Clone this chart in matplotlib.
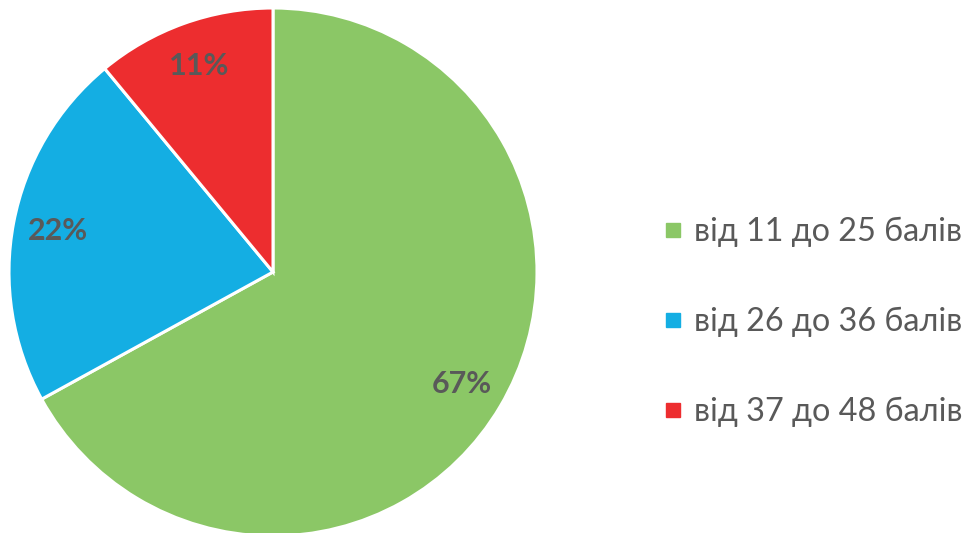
import matplotlib.pyplot as plt
from matplotlib.lines import Line2D

# Score groups and their shares
labels = ['від 11 до 25 балів', 'від 26 до 36 балів', 'від 37 до 48 балів']
shares = [67, 22, 11]
colors = ['#8BC766', '#14AEE3', '#ED2D2F']

plt.rcParams['font.family'] = ['Lato', 'DejaVu Sans']

fig = plt.figure(figsize=(9.75, 5.33), dpi=100)
# pie axes placed so the circle sits at the left, cut slightly at the bottom
ax = fig.add_axes([9 / 975, -3 / 533, 528 / 975, 528 / 533])

wedges, texts, autotexts = ax.pie(
    shares, colors=colors, startangle=90, counterclock=False,
    autopct='%1.0f%%', pctdistance=0.83,
    wedgeprops=dict(edgecolor='white', linewidth=2.2),
    textprops=dict(color='#595959', fontsize=22, fontweight='bold'))
ax.set_xlim(-1, 1)
ax.set_ylim(-1, 1)
ax.set_aspect('equal')

handles = [Line2D([], [], marker='s', linestyle='none', markersize=10,
                  markerfacecolor=c, markeredgecolor=c) for c in colors]
leg = fig.legend(handles, labels, loc='center left',
                 bbox_to_anchor=(663 / 975, 1 - 322 / 533),
                 frameon=False, fontsize=23.3, labelcolor='#595959',
                 handlelength=0.62, handletextpad=0.35, labelspacing=1.85,
                 borderaxespad=0, borderpad=0)

plt.savefig('out.png', dpi=100)
